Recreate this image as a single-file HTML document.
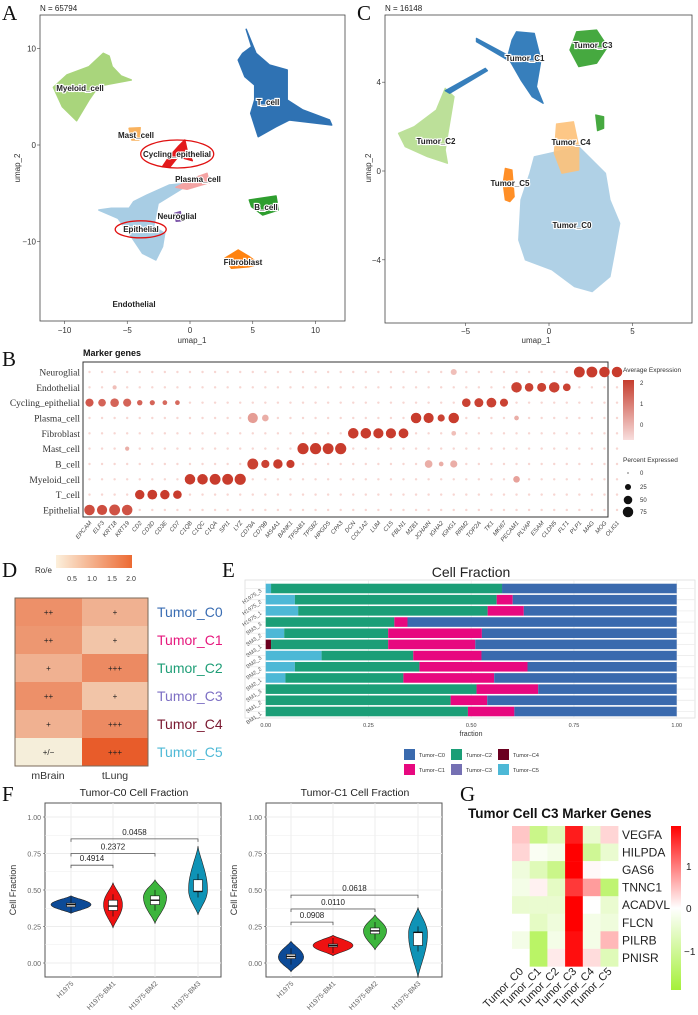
<!DOCTYPE html>
<html><head><meta charset="utf-8"><style>
html,body{margin:0;padding:0;background:#fff;}
svg{display:block;font-family:"Liberation Sans",sans-serif;}
.serif{font-family:"Liberation Serif",serif;}
.lbl{font-size:8px;font-weight:bold;stroke:#fff;stroke-width:2.2px;paint-order:stroke;fill:#222;}
</style></head><body>
<svg id="fig" width="698" height="1015" viewBox="0 0 698 1015"></svg>
<script>
// ---------- DATA ----------
const genes=["EPCAM","ELF3","KRT18","KRT19","CD2","CD3D","CD3E","CD7","C1QB","C1QC","C1QA","SPI1","LYZ","CD79A","CD79B","MS4A1","BANK1","TPSAB1","TPSB2","HPGDS","CPA3","DCN","COL1A2","LUM","C1S","FBLN1","MZB1","JCHAIN","IGHA2","IGHG1","RRM2","TOP2A","TK1","MKI67","PECAM1","PLVAP","ESAM","CLDN5","FLT1","PLP1","MAG","MOG","OLIG1"];
const cellTypes=["Neuroglial","Endothelial","Cycling_epithelial","Plasma_cell","Fibroblast","Mast_cell","B_cell","Myeloid_cell","T_cell","Epithelial"];
const markerNeuro=[["PLP1",80,2.3],["MAG",80,2.3],["MOG",75,2.3],["OLIG1",75,2.3],["IGHG1",25,0]];
const markerEndo=[["PECAM1",75,2.2],["PLVAP",50,2.2],["ESAM",55,2.2],["CLDN5",75,2.2],["FLT1",40,2.2],["KRT18",12,0]];
const markerCyc=[["EPCAM",45,1.8],["ELF3",40,1.6],["KRT18",50,1.6],["KRT19",45,1.6],["CD2",20,1.6],["CD3D",18,1.6],["CD3E",15,1.5],["CD7",15,1.5],["RRM2",50,2.2],["TOP2A",55,2.2],["TK1",65,2.2],["MKI67",45,2.2]];
const markerPlasma=[["CD79A",70,0.6],["CD79B",30,0.3],["MZB1",75,2.3],["JCHAIN",70,2.3],["IGHA2",35,2.2],["IGHG1",75,2.3],["PECAM1",15,0.3]];
const markerFibro=[["DCN",75,2.3],["COL1A2",75,2.3],["LUM",70,2.3],["C1S",70,2.3],["FBLN1",65,2.3],["IGHG1",15,0]];
const markerMast=[["TPSAB1",85,2.3],["TPSB2",85,2.3],["HPGDS",80,2.3],["CPA3",85,2.3],["KRT19",12,0.3]];
const markerB=[["CD79A",80,2.2],["CD79B",45,2.2],["MS4A1",60,2.3],["BANK1",45,2.3],["JCHAIN",40,0.3],["IGHA2",15,0.3],["IGHG1",35,0.3]];
const markerMyeloid=[["C1QB",75,2.3],["C1QC",75,2.3],["C1QA",80,2.3],["SPI1",80,2.3],["LYZ",85,2.3],["PECAM1",30,0.5]];
const markerT=[["CD2",60,2.3],["CD3D",65,2.3],["CD3E",60,2.3],["CD7",50,2.3]];
const markerEpi=[["EPCAM",75,2.0],["ELF3",70,2.0],["KRT18",80,1.9],["KRT19",75,1.9]];
const markerRows=[markerNeuro,markerEndo,markerCyc,markerPlasma,markerFibro,markerMast,markerB,markerMyeloid,markerT,markerEpi];

const roeClusters=["Tumor_C0","Tumor_C1","Tumor_C2","Tumor_C3","Tumor_C4","Tumor_C5"];
const roeTissues=["mBrain","tLung"];
const roeBrain=[1.4,1.3,0.9,1.4,0.9,0.1];
const roeLung=[0.9,0.6,1.5,0.6,1.5,2.2];
const roeBrainSym=["++","++","+","++","+","+/\u2212"];
const roeLungSym=["+","+","+++","+","+++","+++"];

const samples=["H1975_3","H1975_2","H1975_1","BM3_3","BM3_2","BM3_1","BM2_3","BM2_2","BM2_1","BM1_3","BM1_2","BM1_1"];
const fracC4=[0,0,0,0,0,0.013,0,0,0,0,0,0];
const fracC5=[0.013,0.071,0.079,0,0.045,0,0.136,0.071,0.048,0,0,0];
const fracC2=[0.562,0.491,0.461,0.313,0.253,0.285,0.223,0.303,0.287,0.513,0.450,0.492];
const fracC3=[0,0,0,0,0,0,0,0,0,0,0,0];
const fracC1=[0,0.039,0.088,0.032,0.228,0.212,0.166,0.263,0.221,0.150,0.089,0.113];
const fracTicks=[0,0.25,0.5,0.75,1];

const violinGroups=["H1975","H1975-BM1","H1975-BM2","H1975-BM3"];
const c0Min=[0.34,0.24,0.27,0.33], c0Max=[0.46,0.55,0.57,0.80], c0Peak=[0.40,0.40,0.45,0.50], c0Width=[0.95,0.45,0.55,0.45];
const c0Q1=[0.385,0.36,0.40,0.49], c0Med=[0.40,0.39,0.43,0.49], c0Q3=[0.41,0.43,0.46,0.57];
const c1Min=[-0.06,0.05,0.09,-0.10], c1Max=[0.15,0.19,0.33,0.38], c1Peak=[0.04,0.12,0.22,0.20], c1Width=[0.6,0.95,0.55,0.45];
const c1Q1=[0.03,0.11,0.20,0.12], c1Med=[0.045,0.12,0.22,0.21], c1Q3=[0.06,0.13,0.24,0.21];
const c0Brackets=[[0,1,0.67,"0.4914"],[0,2,0.75,"0.2372"],[0,3,0.85,"0.0458"]];
const c1Brackets=[[0,1,0.28,"0.0908"],[0,2,0.37,"0.0110"],[0,3,0.465,"0.0618"]];
const fTicks=[0,0.25,0.5,0.75,1];

const gGenes=["VEGFA","HILPDA","GAS6","TNNC1","ACADVL","FLCN","PILRB","PNISR"];
const gClusters=["Tumor_C0","Tumor_C1","Tumor_C2","Tumor_C3","Tumor_C4","Tumor_C5"];
const zVEGFA=[0.4,-1.0,-0.6,1.6,-0.4,0.3];
const zHILPDA=[0.3,-0.1,-0.2,1.8,-0.9,-0.4];
const zGAS6=[-0.3,-0.6,-1.0,1.9,0.05,0];
const zTNNC1=[-0.2,0.1,-0.5,1.4,0.7,-1.2];
const zACADVL=[-0.4,-0.4,-0.4,1.9,0,-0.4];
const zFLCN=[0,-0.5,-0.3,1.9,-0.2,-0.3];
const zPILRB=[-0.2,-1.3,-0.2,1.7,-0.2,0.5];
const zPNISR=[0,-1.3,0.15,1.7,0.25,-0.6];
const zRows=[zVEGFA,zHILPDA,zGAS6,zTNNC1,zACADVL,zFLCN,zPILRB,zPNISR];

// ---------- HELPERS ----------
const NS="http://www.w3.org/2000/svg";
const svg=document.getElementById('fig');
function mk(tag,attrs,parent){const e=document.createElementNS(NS,tag);for(const k in attrs)e.setAttribute(k,attrs[k]);(parent||svg).appendChild(e);return e;}
function txt(s,attrs,parent){const e=mk('text',attrs,parent);e.textContent=s;return e;}
function lerp(a,b,t){return Math.round(a+(b-a)*t);}
function mix(c1,c2,t){t=Math.max(0,Math.min(1,t));return `rgb(${lerp(c1[0],c2[0],t)},${lerp(c1[1],c2[1],t)},${lerp(c1[2],c2[2],t)})`;}

[["A",2,20],["C",357,20],["B",2,366],["D",2,577],["E",222,577],["F",2,801],["G",460,801]].forEach(p=>{
 const t=txt(p[0],{x:p[1],y:p[2],'font-size':21,class:'serif',fill:'#111'});
 
 
});

// ---------- PANEL A ----------
const gA=mk('g',{});


txt("N = 65794",{x:40,y:11,'font-size':8,fill:'#222'},gA);
mk('rect',{x:40,y:15,width:305,height:306,fill:'#fff',stroke:'#444','stroke-width':0.8},gA);
const axA={x:v=>190+v*12.55,y:v=>145-v*9.65};
[-10,-5,0,5,10].forEach(v=>{mk('line',{x1:axA.x(v),x2:axA.x(v),y1:321,y2:324,stroke:'#444','stroke-width':0.6},gA);txt(String(v).replace('-','\u2212'),{x:axA.x(v),y:333,'font-size':8,'text-anchor':'middle',fill:'#333'},gA);});
[10,0,-10].forEach(v=>{mk('line',{x1:37,x2:40,y1:axA.y(v),y2:axA.y(v),stroke:'#444','stroke-width':0.6},gA);txt(String(v).replace('-','\u2212'),{x:36,y:axA.y(v)+3,'font-size':8,'text-anchor':'end',fill:'#333'},gA);});
txt("umap_1",{x:192,y:343,'font-size':8,'text-anchor':'middle',fill:'#333'},gA);
txt("umap_2",{x:0,y:0,'font-size':8,'text-anchor':'middle',fill:'#333',transform:'translate(20,168) rotate(-90)'},gA);
function zpA(s){return s.trim().split(/\s+/).map(p=>{const [a,b]=p.split(',').map(Number);return (a/2.246).toFixed(1)+','+(b/3).toFixed(1);}).join(' ');}
const blobsA=[
 ["t-cell-cluster","#2f72b3","553,88 565,140 545,160 535,180 550,230 572,255 572,300 563,340 580,410 620,380 650,360 745,375 740,360 680,330 645,300 645,210 605,195 575,160"],
 ["myeloid-cluster","#a9d57c","232,160 200,200 150,225 120,262 140,320 172,362 200,300 222,258 295,240 272,228 252,200 245,168"],
 ["mast-cluster","#f9b25e","290,385 315,383 312,420 296,420"],
 ["epithelial-cluster","#a8cde4","222,630 265,655 290,700 320,760 350,780 365,740 370,700 345,680 355,610 410,565 420,550 380,555 330,585 300,605 290,625 250,625"],
 ["plasma-cluster","#f4a3a3","395,562 440,532 465,520 470,548 420,568"],
 ["cycling-epithelial-cluster","#e31a1c","365,500 380,470 400,440 415,420 420,450 432,482 400,470 382,500"],
 ["neuroglial-cluster","#7b54a8","392,640 405,635 408,662 396,664"],
 ["b-cell-cluster","#2f9e2f","560,600 620,588 625,630 590,645 565,620"],
 ["fibroblast-cluster","#ff8310","505,775 535,750 560,770 582,792 560,800 520,805"]
];
blobsA.forEach(b=>{const p=mk('polygon',{points:zpA(b[2]),fill:b[1],stroke:b[1],'stroke-width':1.5,'stroke-linejoin':'round'},gA);});
mk('ellipse',{cx:398/2.246,cy:462/3,rx:36.5,ry:14,fill:'none',stroke:'#e01010','stroke-width':1.3},gA);
mk('ellipse',{cx:316/2.246,cy:688/3,rx:25.5,ry:8.5,fill:'none',stroke:'#e01010','stroke-width':1.3},gA);
[["Myeloid_cell",80,91],["T_cell",268,105],["Mast_cell",136,138],["Cycling_epithelial",177,157],["Plasma_cell",198,182],["B_cell",266,210],["Neuroglial",177,219],["Epithelial",141,232],["Fibroblast",243,265],["Endothelial",134,307]].forEach(l=>{
 const t=txt(l[0],{x:l[1],y:l[2],class:'lbl','text-anchor':'middle'},gA);
 
 
});

// ---------- PANEL C ----------
const gC=mk('g',{});


txt("N = 16148",{x:385,y:11,'font-size':8,fill:'#222'},gC);
mk('rect',{x:385,y:15,width:307,height:308,fill:'#fff',stroke:'#444','stroke-width':0.8},gC);
const axC={x:v=>549+v*16.7,y:v=>171-v*22.2};
[-5,0,5].forEach(v=>{mk('line',{x1:axC.x(v),x2:axC.x(v),y1:323,y2:326,stroke:'#444','stroke-width':0.6},gC);txt(String(v).replace('-','\u2212'),{x:axC.x(v),y:334,'font-size':8,'text-anchor':'middle',fill:'#333'},gC);});
[4,0,-4].forEach(v=>{mk('line',{x1:382,x2:385,y1:axC.y(v),y2:axC.y(v),stroke:'#444','stroke-width':0.6},gC);txt(String(v).replace('-','\u2212'),{x:381,y:axC.y(v)+3,'font-size':8,'text-anchor':'end',fill:'#333'},gC);});
txt("umap_1",{x:536,y:343,'font-size':8,'text-anchor':'middle',fill:'#333'},gC);
txt("umap_2",{x:0,y:0,'font-size':8,'text-anchor':'middle',fill:'#333',transform:'translate(371,168) rotate(-90)'},gC);
const blobsC=[
 ["tumor-c0-cluster","#a8cde4","1200,470 1300,440 1360,520 1370,600 1392,670 1380,760 1370,830 1330,875 1290,860 1240,810 1180,780 1165,720 1170,600 1190,520"],
 ["tumor-c4-cluster","#fdc27a","1250,372 1288,365 1300,440 1300,510 1262,520 1245,460"],
 ["tumor-c1-cluster","#2272b5","1160,95 1200,100 1215,180 1205,260 1220,310 1195,290 1170,240 1140,170 1150,120"],
 ["tumor-c1-trail","#2272b5","1070,115 1140,165 1140,180 1070,125"],
 ["tumor-c3-cluster","#33a02c","1295,95 1340,90 1365,140 1340,190 1300,200 1280,150"],
 ["tumor-c3-small","#33a02c","1338,345 1356,350 1356,385 1342,392"],
 ["tumor-c2-cluster","#b5dd8e","1000,265 1020,290 1000,450 1005,490 960,470 910,440 895,400 930,380 980,330"],
 ["tumor-c2-trail","#2272b5","1000,272 1090,205 1095,212 1010,280"],
 ["tumor-c5-cluster","#ff8310","1135,505 1150,510 1155,590 1145,605 1135,600 1130,550"]
];
blobsC.forEach(b=>{const p=mk('polygon',{points:zpA(b[2]),fill:b[1],stroke:b[1],'stroke-width':1.2,'stroke-linejoin':'round',opacity:0.9},gC);});
[["Tumor_C1",525,61],["Tumor_C3",593,48],["Tumor_C2",436,144],["Tumor_C4",571,145],["Tumor_C5",510,186],["Tumor_C0",572,228]].forEach(l=>{
 const t=txt(l[0],{x:l[1],y:l[2],class:'lbl','text-anchor':'middle','font-size':7},gC);
 
 
});

// ---------- PANEL B ----------
const gB=mk('g',{});


txt("Marker genes",{x:83,y:356,'font-size':9,'font-weight':'bold',fill:'#111'},gB);
mk('rect',{x:83,y:362,width:525,height:155,fill:'#fff',stroke:'#333','stroke-width':1},gB);
const bx=i=>89.5+i*12.56, by=i=>372+i*15.33;
const exprCol=e=>mix([250,225,222],[200,60,45],(e+0.6)/2.9);
const rOf=p=>5.6*Math.sqrt(p/85);
cellTypes.forEach((ct,ri)=>{
 const t=txt(ct,{x:80,y:by(ri)+3.5,'font-size':9.5,'text-anchor':'end',class:'serif',fill:'#333'},gB);
 
 
 const m={};markerRows[ri].forEach(e=>m[e[0]]=e);
 genes.forEach((g,gi)=>{
  const e=m[g]||[g,4,-0.4];
  const c=mk('circle',{cx:bx(gi),cy:by(ri),r:Math.max(0.9,rOf(e[1])),fill:exprCol(e[2])},gB);
  
  
 });
});
genes.forEach((g,gi)=>{
 const t=txt(g,{x:0,y:0,'font-size':6,'text-anchor':'end',fill:'#444','font-style':'italic',transform:`translate(${bx(gi)+2.5},${523}) rotate(-50)`},gB);
 
 
});
txt("Average Expression",{x:623,y:372,'font-size':6.5,fill:'#333'},gB);
const defs=mk('defs',{});
const lg=mk('linearGradient',{id:'gB',x1:0,y1:1,x2:0,y2:0},defs);
mk('stop',{offset:0,'stop-color':'#f8dedd'},lg);mk('stop',{offset:1,'stop-color':'#c53d2e'},lg);
mk('rect',{x:623,y:380,width:11,height:60,fill:'url(#gB)'},gB);
[["2",383],["1",404],["0",425]].forEach(t=>txt(t[0],{x:640,y:t[1]+2,'font-size':6,fill:'#333'},gB));
txt("Percent Expressed",{x:623,y:462,'font-size':6.5,fill:'#333'},gB);
[[0,473],[25,487],[50,500],[75,512]].forEach(p=>{mk('circle',{cx:628,cy:p[1],r:Math.max(0.6,rOf(p[0])),fill:'#111'},gB);txt(String(p[0]),{x:640,y:p[1]+2,'font-size':6,fill:'#333'},gB);});

// ---------- PANEL D ----------
const gD=mk('g',{});


const lgD=mk('linearGradient',{id:'gD',x1:0,y1:0,x2:1,y2:0},defs);
mk('stop',{offset:0,'stop-color':'#fcf0dc'},lgD);mk('stop',{offset:1,'stop-color':'#ec6a33'},lgD);
txt("Ro/e",{x:35,y:573,'font-size':8,fill:'#333'},gD);
mk('rect',{x:56,y:555,width:76,height:13,fill:'url(#gD)'},gD);
[["0.5",72],["1.0",92],["1.5",112],["2.0",131]].forEach(t=>txt(t[0],{x:t[1],y:581,'font-size':7,'text-anchor':'middle',fill:'#333'},gD));
const roeCol=v=>mix([246,246,228],[232,92,42],v/2.2<0.25?v/2.2*1.2:0.3+ (v/2.2-0.25)*0.93);
const dRowY=i=>598+i*28, dCols=[15,82];
const clColors=["#3a6db3","#e6177d","#1f9e77","#7d6fc4","#7a1830","#4fb9d6"];
roeClusters.forEach((c,i)=>{
 [roeBrain,roeLung].forEach((arr,j)=>{
  const r=mk('rect',{x:dCols[j],y:dRowY(i),width:j?66:67,height:28,fill:roeCol(arr[i])},gD);
  
  
  txt((j?roeLungSym:roeBrainSym)[i],{x:dCols[j]+(j?33:33.5),y:dRowY(i)+17,'font-size':8,'text-anchor':'middle',fill:'#222'},gD);
 });
 const t=txt(c,{x:157,y:dRowY(i)+19,'font-size':14,fill:clColors[i]},gD);
 
 
});
mk('rect',{x:15,y:598,width:133,height:168,fill:'none',stroke:'#7a6a5a','stroke-width':1},gD);
txt("mBrain",{x:48,y:779,'font-size':10.5,'text-anchor':'middle',fill:'#333'},gD);
txt("tLung",{x:115,y:779,'font-size':10.5,'text-anchor':'middle',fill:'#333'},gD);

// ---------- PANEL E ----------
const gE=mk('g',{});


txt("Cell Fraction",{x:471,y:577,'font-size':14,'text-anchor':'middle',fill:'#222'},gE);
mk('rect',{x:245,y:580,width:450,height:138,fill:'#fff',stroke:'#ddd','stroke-width':0.8},gE);
const ex=v=>265.7+v*411, ey=i=>588.5+i*11.18;
fracTicks.forEach(v=>{mk('line',{x1:ex(v),x2:ex(v),y1:580,y2:718,stroke:'#ececec','stroke-width':0.8},gE);txt(v.toFixed(2),{x:ex(v),y:727,'font-size':5.5,'text-anchor':'middle',fill:'#444'},gE);});
const eColors={c4:"#6b0020",c5:"#4db8d6",c2:"#1b9e77",c3:"#7570b3",c1:"#e7087f",c0:"#3a6aae"};
samples.forEach((s,i)=>{
 mk('line',{x1:245,x2:695,y1:ey(i),y2:ey(i),stroke:'#ececec','stroke-width':0.8},gE);
 let acc=0;
 [["c4",fracC4[i]],["c5",fracC5[i]],["c2",fracC2[i]],["c3",fracC3[i]],["c1",fracC1[i]],["c0",1-fracC4[i]-fracC5[i]-fracC2[i]-fracC3[i]-fracC1[i]]].forEach(seg=>{
  if(seg[1]<=0)return;
  const r=mk('rect',{x:ex(acc),y:ey(i)-4.8,width:seg[1]*411,height:9.6,fill:eColors[seg[0]]},gE);
  
  
  acc+=seg[1];
 });
 txt(s,{x:0,y:0,'font-size':5.5,'text-anchor':'end',fill:'#555',transform:`translate(262,${ey(i)+3}) rotate(-35)`},gE);
});
txt("fraction",{x:471,y:736,'font-size':7,'text-anchor':'middle',fill:'#333'},gE);
[["Tumor\u2212C0","c0",404,749],["Tumor\u2212C2","c2",451,749],["Tumor\u2212C4","c4",498,749],["Tumor\u2212C1","c1",404,764],["Tumor\u2212C3","c3",451,764],["Tumor\u2212C5","c5",498,764]].forEach(l=>{
 const r=mk('rect',{x:l[2],y:l[3],width:11,height:11,fill:eColors[l[1]]},gE);
 
 
 txt(l[0],{x:l[2]+15,y:l[3]+8,'font-size':5.5,fill:'#333'},gE);
});

// ---------- PANEL F ----------
const vColors=["#0c4a97","#ee1111","#3db53d","#0f93b6"];
function violinPanel(name,x0,cats,mins,maxs,peaks,widths,q1,med,q3,brackets,title){
 const g=mk('g',{});
 
 
 const fy=v=>963-146*v;
 const fx=i=>cats[i];
 txt(title,{x:x0+89,y:796,'font-size':10.5,'text-anchor':'middle',fill:'#222'},g);
 mk('rect',{x:x0,y:803,width:176,height:174,fill:'#fff',stroke:'#555','stroke-width':1},g);
 for(let v=0;v<=1.001;v+=0.125) mk('line',{x1:x0,x2:x0+176,y1:fy(v),y2:fy(v),stroke:'#ededed','stroke-width':v*4%1===0?0.9:0.5},g);
 cats.forEach(c=>mk('line',{x1:c,x2:c,y1:803,y2:977,stroke:'#ededed','stroke-width':0.9},g));
 fTicks.forEach(v=>{txt(v.toFixed(2),{x:x0-4,y:fy(v)+3,'font-size':7,'text-anchor':'end',fill:'#666'},g);mk('line',{x1:x0-2,x2:x0,y1:fy(v),y2:fy(v),stroke:'#555','stroke-width':0.6},g);});
 txt("Cell Fraction",{x:0,y:0,'font-size':9,'text-anchor':'middle',fill:'#333',transform:`translate(${x0-29},890) rotate(-90)`},g);
 violinGroups.forEach((vg,i)=>{
  const cx=fx(i), hw=widths[i]*21;
  const N=40, right=[], left=[];
  for(let k=0;k<=N;k++){
   const v=mins[i]+(maxs[i]-mins[i])*k/N;
   let u = v<=peaks[i] ? (v-mins[i])/(peaks[i]-mins[i]) : (maxs[i]-v)/(maxs[i]-peaks[i]);
   u=Math.max(0,Math.min(1,u));
   const w=hw*Math.pow(Math.sin(Math.PI/2*u),1.3);
   right.push([cx+w,fy(v)]);left.unshift([cx-w,fy(v)]);
  }
  const d='M'+right.concat(left).map(p=>p[0].toFixed(1)+','+p[1].toFixed(1)).join(' L')+'Z';
  const p=mk('path',{d:d,fill:vColors[i],stroke:'#222','stroke-width':0.6,'stroke-linejoin':'round'},g);
  
  
  mk('line',{x1:cx,x2:cx,y1:fy(q1[i])+6,y2:fy(q3[i])-6,stroke:'#111','stroke-width':0.7},g);
  const b=mk('rect',{x:cx-4.5,y:fy(q3[i]),width:9,height:Math.max(2,fy(q1[i])-fy(q3[i])),fill:'#fff',stroke:'#111','stroke-width':0.6},g);
  
  
  mk('line',{x1:cx-4.5,x2:cx+4.5,y1:fy(med[i]),y2:fy(med[i]),stroke:'#111','stroke-width':1.4},g);
  txt(vg,{x:0,y:0,'font-size':7,'text-anchor':'end',fill:'#666',transform:`translate(${cx+3},${984}) rotate(-45)`},g);
 });
 brackets.forEach(br=>{
  const y=fy(br[2]);
  mk('path',{d:`M${fx(br[0])},${y+3}V${y}H${fx(br[1])}V${y+3}`,fill:'none',stroke:'#555','stroke-width':0.8},g);
  const t=txt(br[3],{x:(fx(br[0])+fx(br[1]))/2,y:y-4,'font-size':8,'text-anchor':'middle',fill:'#222'},g);
  
  
 });
}
violinPanel('violin-c0',45,[71,113,155,198],c0Min,c0Max,c0Peak,c0Width,c0Q1,c0Med,c0Q3,c0Brackets,"Tumor-C0 Cell Fraction");
violinPanel('violin-c1',266,[291,333,375,418],c1Min,c1Max,c1Peak,c1Width,c1Q1,c1Med,c1Q3,c1Brackets,"Tumor-C1 Cell Fraction");

// ---------- PANEL G ----------
const gG=mk('g',{});


txt("Tumor Cell C3 Marker Genes",{x:468,y:818,'font-size':13.5,'font-weight':'bold',fill:'#111'},gG);
const zCol=z=>z>=0?mix([255,255,255],[255,0,0],z/1.8):mix([255,255,255],[165,240,55],-z/1.7);
const gx=i=>512+i*17.7, gy=i=>826+i*17.55;
zRows.forEach((row,ri)=>{
 row.forEach((z,ci)=>{
  const r=mk('rect',{x:gx(ci),y:gy(ri),width:17.9,height:17.8,fill:zCol(z)},gG);
  
  
 });
 txt(gGenes[ri],{x:622,y:gy(ri)+13,'font-size':12,fill:'#222'},gG);
});
gClusters.forEach((c,ci)=>{
 const t=txt(c,{x:0,y:0,'font-size':11,'text-anchor':'end',fill:'#222',transform:`translate(${gx(ci)+12},${972}) rotate(-45)`},gG);
 
 
});
const lgG=mk('linearGradient',{id:'gG',x1:0,y1:1,x2:0,y2:0},defs);
mk('stop',{offset:0,'stop-color':'#a5f03a'},lgG);mk('stop',{offset:0.5,'stop-color':'#ffffff'},lgG);mk('stop',{offset:1,'stop-color':'#ff0000'},lgG);
mk('rect',{x:671,y:826,width:10,height:164,fill:'url(#gG)'},gG);
txt("1",{x:686,y:870,'font-size':10,fill:'#222'},gG);
txt("0",{x:686,y:912,'font-size':10,fill:'#222'},gG);
txt("\u22121",{x:684,y:955,'font-size':10,fill:'#222'},gG);
</script>
</body></html>
